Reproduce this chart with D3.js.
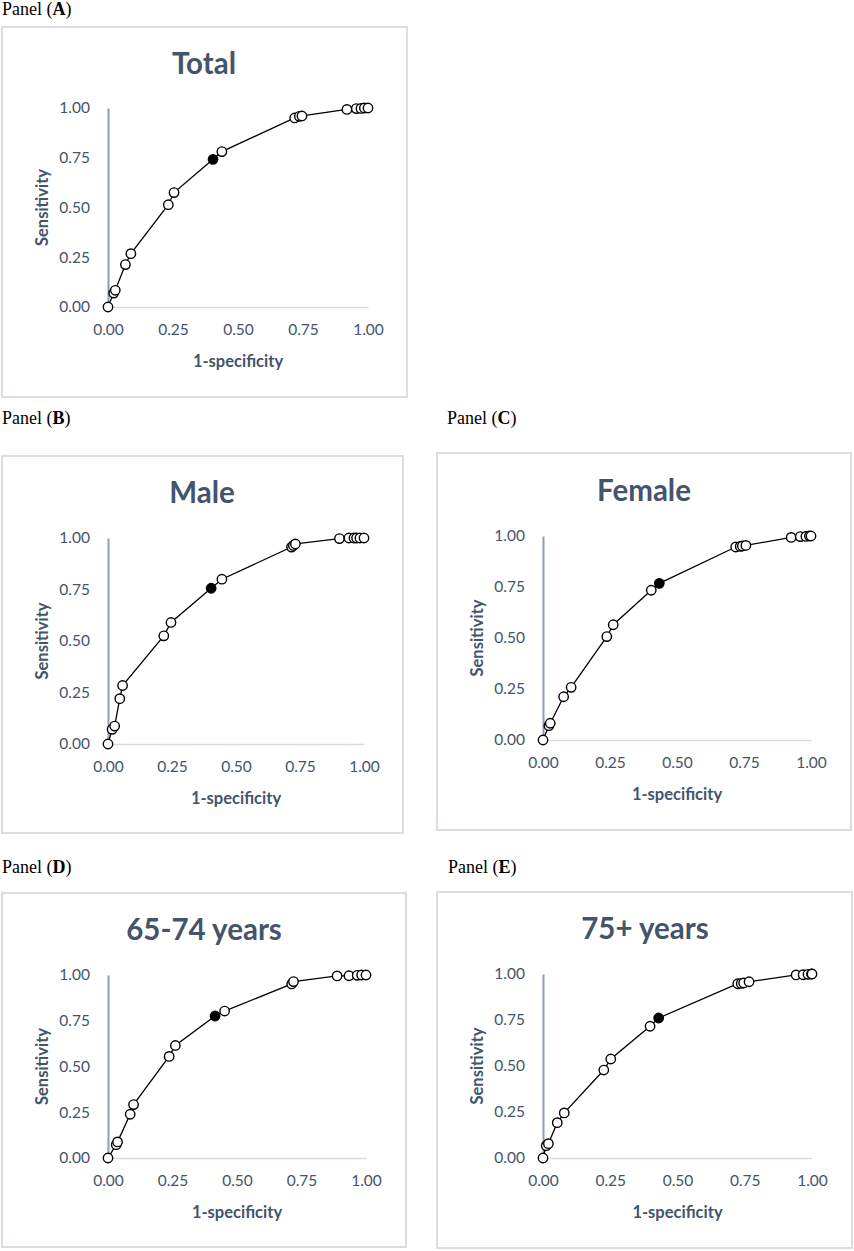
<!DOCTYPE html>
<html>
<head>
<meta charset="utf-8">
<script src="https://cdn.jsdelivr.net/npm/d3@7"></script>
<style>
  body { margin: 0; background: #fff; }
  svg { display: block; }
</style>
</head>
<body>
<div class="container"></div>
<script>
// ROC points (1-specificity, sensitivity)
const totalX = [0, 0.022, 0.028, 0.067, 0.088, 0.232, 0.254, 0.404, 0.438, 0.718, 0.736, 0.746, 0.919, 0.955, 0.973, 0.986, 1.0];
const totalY = [0, 0.070, 0.084, 0.213, 0.268, 0.514, 0.575, 0.742, 0.781, 0.950, 0.958, 0.960, 0.993, 0.997, 0.998, 1.0, 1.0];

const maleX = [0, 0.016, 0.026, 0.046, 0.057, 0.218, 0.246, 0.403, 0.445, 0.717, 0.724, 0.732, 0.904, 0.941, 0.961, 0.971, 0.984, 1.0];
const maleY = [0, 0.071, 0.087, 0.220, 0.284, 0.525, 0.590, 0.756, 0.800, 0.956, 0.964, 0.971, 0.997, 1.0, 1.0, 1.0, 1.0, 1.0];

const femaleX = [0, 0.022, 0.027, 0.077, 0.105, 0.238, 0.262, 0.404, 0.434, 0.719, 0.736, 0.744, 0.757, 0.926, 0.960, 0.981, 0.994, 1.0];
const femaleY = [0, 0.070, 0.082, 0.212, 0.258, 0.507, 0.565, 0.734, 0.768, 0.946, 0.949, 0.951, 0.954, 0.993, 0.997, 0.998, 1.0, 1.0];

const age6574X = [0, 0.032, 0.037, 0.086, 0.099, 0.237, 0.261, 0.415, 0.452, 0.712, 0.719, 0.888, 0.934, 0.966, 0.983, 1.0];
const age6574Y = [0, 0.073, 0.088, 0.239, 0.292, 0.555, 0.615, 0.776, 0.803, 0.951, 0.964, 0.995, 0.996, 0.998, 1.0, 1.0];

const age75X = [0, 0.012, 0.020, 0.053, 0.079, 0.226, 0.252, 0.398, 0.430, 0.724, 0.737, 0.746, 0.766, 0.941, 0.967, 0.985, 0.998, 1.0];
const age75Y = [0, 0.067, 0.078, 0.192, 0.245, 0.478, 0.538, 0.716, 0.761, 0.947, 0.949, 0.951, 0.958, 0.995, 0.996, 0.998, 1.0, 1.0];

// index of the black (cut-off) point in each series
const cutoffIndex = [7, 7, 8, 7, 8];

const titles = ["Total", "Male", "Female", "65-74 years", "75+ years"];
const panelLetters = ["A", "B", "C", "D", "E"];
const ticks = [0, 0.25, 0.5, 0.75, 1];

const seriesX = [totalX, maleX, femaleX, age6574X, age75X];
const seriesY = [totalY, maleY, femaleY, age6574Y, age75Y];

// layout of each chart box on the page
const layout = [
  { box: [2, 27, 405, 370],   px: [108, 368], py: [307, 108],  label: [2, 15],    titleY: 74,  cx: 204, sx: 42 },
  { box: [2, 456, 401, 377],  px: [108, 364], py: [744, 538],  label: [2, 424],   titleY: 503, cx: 202, sx: 42 },
  { box: [437, 453, 414, 377], px: [543, 811], py: [740, 536], label: [447, 424], titleY: 501, cx: 644, sx: 477 },
  { box: [2, 893, 404, 354],  px: [108, 366], py: [1158, 975], label: [2, 873],   titleY: 940, cx: 204, sx: 42 },
  { box: [437, 892, 415, 356], px: [543, 812], py: [1158, 974], label: [448, 873], titleY: 939, cx: 645, sx: 477 }
];

const width = 854;
const height = 1251;
const navy = "#44546a";
const fmt = d3.format(".2f");
const sans = "Lato, 'Open Sans', sans-serif";

const svg = d3.select("div.container")
  .append("svg")
  .attr("width", width)
  .attr("height", height);

svg.append("rect").attr("width", width).attr("height", height).attr("fill", "#fff");

layout.forEach((L, i) => {
  const xScale = d3.scaleLinear().domain([0, 1]).range(L.px);
  const yScale = d3.scaleLinear().domain([0, 1]).range(L.py);

  // "Panel (X)" caption
  const cap = svg.append("text")
    .attr("x", L.label[0]).attr("y", L.label[1])
    .attr("font-family", "'Liberation Serif', 'Times New Roman', serif")
    .attr("font-size", 18).attr("fill", "#000");
  cap.append("tspan").text("Panel (");
  cap.append("tspan").attr("font-weight", "bold").text(panelLetters[i]);
  cap.append("tspan").text(")");

  // chart frame
  svg.append("rect")
    .attr("x", L.box[0]).attr("y", L.box[1])
    .attr("width", L.box[2]).attr("height", L.box[3])
    .attr("fill", "#fff").attr("stroke", "#d9dde4").attr("stroke-width", 2);

  const g = svg.append("g");

  g.append("text")
    .attr("x", L.cx).attr("y", L.titleY)
    .attr("text-anchor", "middle")
    .attr("font-family", sans)
    .attr("font-weight", "bold").attr("font-size", 29.5)
    .attr("fill", navy).text(titles[i]);

  // axes (no tick marks, Excel style)
  const xAxis = d3.axisBottom(xScale).tickValues(ticks).tickFormat(fmt).tickSize(0).tickPadding(17);
  const yAxis = d3.axisLeft(yScale).tickValues(ticks).tickFormat(fmt).tickSize(0).tickPadding(18);

  const gx = g.append("g").attr("transform", `translate(0,${L.py[0]})`).call(xAxis);
  gx.select(".domain").attr("stroke", "#d6dce5").attr("stroke-width", 1.5);
  const gy = g.append("g").attr("transform", `translate(${L.px[0]},0)`).call(yAxis);
  gy.select(".domain").attr("stroke", "#8d9db7").attr("stroke-width", 2);

  g.selectAll(".tick text")
    .attr("font-family", sans)
    .attr("font-size", 15.5).attr("fill", navy);

  // axis titles
  g.append("text")
    .attr("transform", `translate(${L.sx},${(L.py[0] + L.py[1]) / 2}) rotate(-90)`)
    .attr("text-anchor", "middle").attr("dy", "0.35em")
    .attr("font-family", sans)
    .attr("font-weight", "bold").attr("font-size", 16.5)
    .attr("fill", navy).text("Sensitivity");

  g.append("text")
    .attr("x", (L.px[0] + L.px[1]) / 2).attr("y", L.py[0] + 54)
    .attr("text-anchor", "middle").attr("dy", "0.35em")
    .attr("font-family", sans)
    .attr("font-weight", "bold").attr("font-size", 16.5)
    .attr("fill", navy).text("1-specificity");

  const pts = seriesX[i].map((x, k) => ({ x: x, y: seriesY[i][k], cut: k === cutoffIndex[i] }));

  const line = d3.line().x(d => xScale(d.x)).y(d => yScale(d.y));
  g.append("path").datum(pts)
    .attr("d", line).attr("fill", "none")
    .attr("stroke", "#000").attr("stroke-width", 1.3);

  g.selectAll("circle.open").data(pts.filter(d => !d.cut)).enter()
    .append("circle").attr("class", "open")
    .attr("cx", d => xScale(d.x)).attr("cy", d => yScale(d.y)).attr("r", 4.7)
    .attr("fill", "#fff").attr("stroke", "#000").attr("stroke-width", 1.4);

  g.selectAll("circle.cut").data(pts.filter(d => d.cut)).enter()
    .append("circle").attr("class", "cut")
    .attr("cx", d => xScale(d.x)).attr("cy", d => yScale(d.y)).attr("r", 4.7)
    .attr("fill", "#000").attr("stroke", "#000").attr("stroke-width", 1.4);
});
</script>
</body>
</html>
